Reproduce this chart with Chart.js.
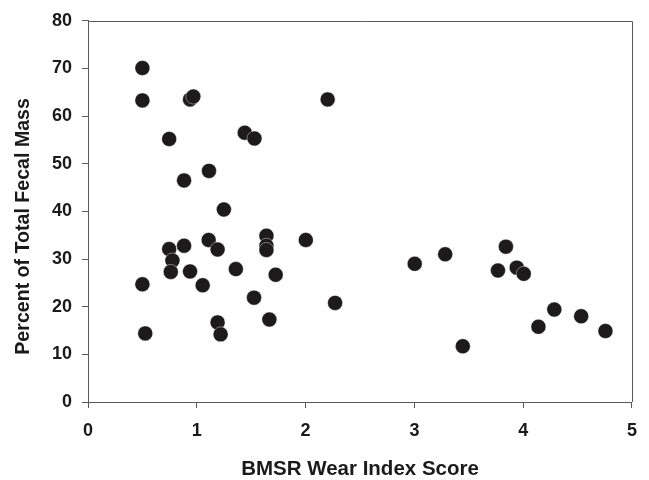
<!DOCTYPE html>
<html>
<head>
<meta charset="utf-8">
<script src="https://cdn.jsdelivr.net/npm/chart.js@4"></script>
<style>
html,body{margin:0;padding:0;background:#fff;}
#wrap{width:649px;height:480px;}
</style>
</head>
<body>
<div id="wrap"><canvas id="c" width="649" height="480"></canvas></div>
<script>
const wearIndex = [0.50,0.50,0.746,0.938,0.968,0.883,1.112,1.441,1.530,2.203,1.249,
  0.50,0.526,0.746,0.776,0.761,0.883,0.938,1.054,1.109,1.191,1.359,1.191,1.219,1.526,
  1.640,1.640,1.640,1.725,1.667,2.002,2.271,
  3.003,3.283,3.445,3.768,3.841,3.941,4.005,4.140,4.286,4.533,4.756];
const fecalPercent = [70.1,63.3,55.2,63.5,64.1,46.5,48.5,56.5,55.3,63.5,40.4,
  24.7,14.4,32.1,29.7,27.3,32.8,27.4,24.5,34.0,32.0,27.9,16.7,14.2,21.9,
  34.9,32.8,31.9,26.7,17.3,34.0,20.8,
  29.0,31.0,11.7,27.6,32.6,28.2,26.9,15.8,19.4,18.0,14.9];
const xTicks = [0,1,2,3,4,5];
const yTicks = [0,10,20,30,40,50,60,70,80];
const xTitle = 'BMSR Wear Index Score';
const yTitle = 'Percent of Total Fecal Mass';

const points = wearIndex.map((x,i)=>({x:x,y:fecalPercent[i]}));
const family = '"Liberation Sans", Arial, sans-serif';
const tickFont = {family:family, size:18, weight:'bold'};
const xTitleFont = {family:family, size:20.5, weight:'bold', lineHeight:1};
const axisColor = '#5a5a5a';
const textColor = '#1a1a1a';

const frame = {
  id:'frame',
  afterDraw(chart){
    const a = chart.chartArea, ctx = chart.ctx;
    ctx.save();
    ctx.strokeStyle = axisColor;
    ctx.lineWidth = 1;
    ctx.beginPath();
    ctx.moveTo(Math.round(a.left), Math.round(a.top)+0.5);
    ctx.lineTo(Math.round(a.right)+0.5, Math.round(a.top)+0.5);
    ctx.lineTo(Math.round(a.right)+0.5, Math.round(a.bottom));
    ctx.stroke();
    // y axis title (shifted slightly below the plot centre, as in the original)
    ctx.fillStyle = textColor;
    ctx.font = 'bold 19.6px ' + family;
    ctx.textAlign = 'center';
    ctx.textBaseline = 'middle';
    ctx.translate(24, (a.top + a.bottom) / 2 + 15);
    ctx.rotate(-Math.PI / 2);
    ctx.fillText(yTitle, 0, 0);
    ctx.restore();
  }
};

new Chart(document.getElementById('c'), {
  type:'scatter',
  data:{datasets:[{
    data:points,
    pointRadius:7.5,
    pointHoverRadius:7.5,
    backgroundColor:'#1c1a1b',
    borderColor:'rgba(255,255,255,0.6)',
    borderWidth:0.7
  }]},
  options:{
    responsive:false,
    animation:false,
    layout:{padding:{top:17.5,right:13.5,left:0,bottom:0}},
    plugins:{legend:{display:false},tooltip:{enabled:false}},
    scales:{
      x:{
        type:'linear', min:0, max:5,
        afterBuildTicks(s){ s.ticks = xTicks.map(v=>({value:v})); },
        afterFit(s){ s.height = 78; },
        grid:{display:true, drawOnChartArea:false, drawTicks:true, tickLength:6, color:axisColor},
        border:{display:true, color:axisColor},
        ticks:{color:textColor, font:tickFont, padding:12, maxRotation:0},
        title:{display:true, text:xTitle, color:textColor, font:xTitleFont, padding:{top:0,bottom:0}}
      },
      y:{
        type:'linear', min:0, max:80,
        afterBuildTicks(s){ s.ticks = yTicks.map(v=>({value:v})); },
        afterFit(s){ s.width = 88; },
        grid:{display:true, drawOnChartArea:false, drawTicks:true, tickLength:6, color:axisColor},
        border:{display:true, color:axisColor},
        ticks:{color:textColor, font:tickFont, padding:10},
        title:{display:false, text:yTitle}
      }
    }
  },
  plugins:[frame]
});
</script>
</body>
</html>
